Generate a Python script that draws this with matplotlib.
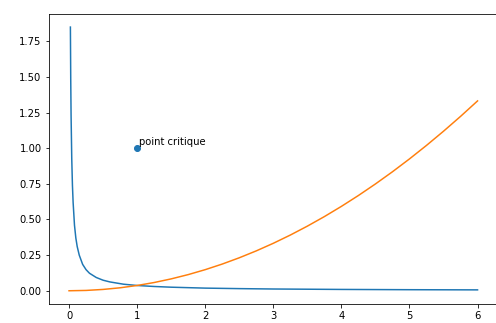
import matplotlib
matplotlib.use('Agg')
import matplotlib.pyplot as plt

# blue curve (decreasing)
x_blue = [0.02, 0.025, 0.03, 0.04, 0.05, 0.06, 0.08, 0.1, 0.12, 0.15, 0.2, 0.25,
          0.3, 0.4, 0.5, 0.6, 0.8, 1.0, 1.25, 1.5, 2, 2.5, 3, 4, 5, 6]
y_blue = [1.85, 1.48, 1.23, 0.925, 0.74, 0.62, 0.46, 0.37, 0.31, 0.25, 0.185, 0.148,
          0.123, 0.093, 0.074, 0.062, 0.046, 0.037, 0.030, 0.025, 0.0185, 0.015,
          0.0123, 0.0093, 0.0074, 0.0062]

# orange curve (increasing)
x_orange = [0, 0.25, 0.5, 0.75, 1, 1.25, 1.5, 1.75, 2, 2.25, 2.5, 2.75, 3,
            3.25, 3.5, 3.75, 4, 4.25, 4.5, 4.75, 5, 5.25, 5.5, 5.75, 6]
y_orange = [0, 0.0023, 0.0093, 0.0208, 0.037, 0.0578, 0.0833, 0.1133, 0.148,
            0.1873, 0.2313, 0.2798, 0.333, 0.3908, 0.4533, 0.5203, 0.592, 0.6683,
            0.7493, 0.8348, 0.925, 1.0198, 1.1193, 1.2233, 1.332]

# critical point
pt_x = [1]
pt_y = [1]
pt_label = "point critique"

fig = plt.figure(figsize=(496 / 72, 323 / 72), dpi=72)
ax = fig.add_axes([0.098, 0.059, 0.906, 0.898])

ax.plot(x_blue, y_blue)
ax.plot(x_orange, y_orange)
ax.scatter(pt_x, pt_y)
ax.text(pt_x[0] + 0.03, pt_y[0] + 0.02, pt_label)

# the right edge of the frame falls off the picture in the reference
ax.spines['right'].set_visible(False)

fig.savefig('out.png', dpi=72)
